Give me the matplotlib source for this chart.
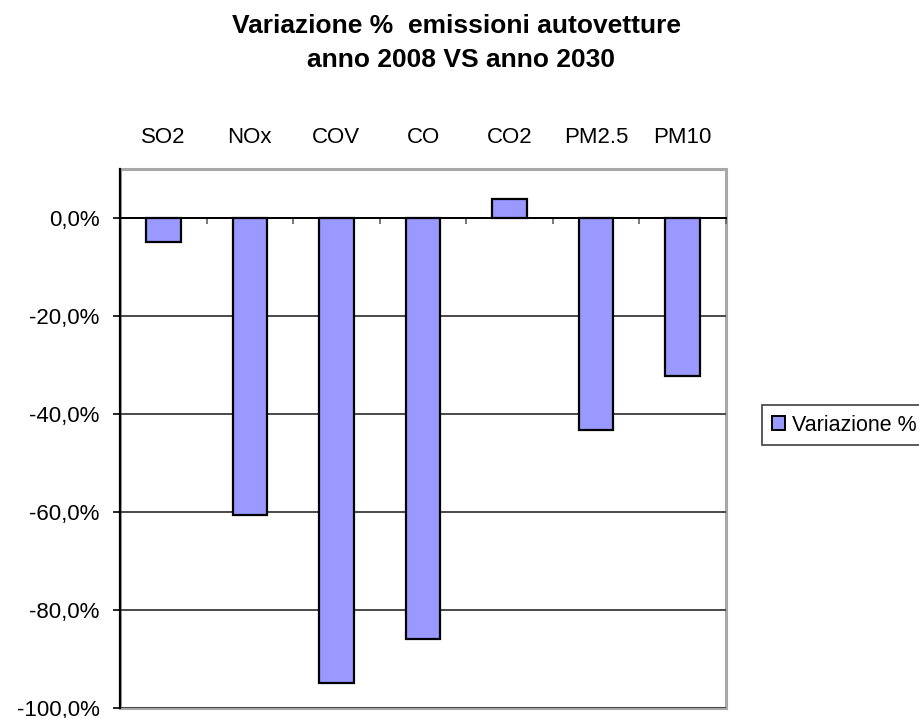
import matplotlib
matplotlib.use("Agg")
import matplotlib.pyplot as plt
from matplotlib.patches import Rectangle, Patch
from matplotlib.ticker import FuncFormatter
import numpy as np

plt.rcParams['font.family'] = ['Liberation Sans', 'DejaVu Sans']

# Dati (variazione % emissioni autovetture 2008 vs 2030)
categorie = ['SO2', 'NOx', 'COV', 'CO', 'CO2', 'PM2.5', 'PM10']
variazione = [-4.9, -60.6, -94.9, -86.0, 3.9, -43.3, -32.3]
serie_nome = 'Variazione %'
yticks = [0, -20, -40, -60, -80, -100]

fig = plt.figure(figsize=(9.19, 7.18), dpi=100)
ax = fig.add_axes([120 / 919, 10 / 718, 606 / 919, 539 / 718])

x = np.arange(len(categorie))
ax.bar(x, variazione, width=0.4, color='#9999FF', edgecolor='black',
       linewidth=1.6, zorder=3)

ax.set_xlim(-0.5, len(categorie) - 0.5)
ax.set_ylim(-100, 10)

# griglia orizzontale
ax.set_yticks(yticks)
ax.yaxis.grid(True, color='#3a3a3a', linewidth=1.3, zorder=1)
ax.set_axisbelow(True)
ax.yaxis.set_major_formatter(FuncFormatter(
    lambda v, p: ('%.1f%%' % (v if v != 0 else 0.0)).replace('.', ',')))
ax.tick_params(axis='y', direction='out', length=5, width=1.2,
               color='black', pad=9.5, labelsize=16)

# cornice grigia dell'area del grafico
for s in ['top', 'right']:
    ax.spines[s].set_visible(False)
ax.add_patch(Rectangle((0, 0), 1, 1, transform=ax.transAxes, fill=False,
                       edgecolor='#a8a8a8', linewidth=2.2, zorder=0,
                       clip_on=False))
ax.spines['left'].set_color('black')
ax.spines['left'].set_linewidth(1.6)
ax.spines['left'].set_zorder(4)

# asse delle categorie sullo zero
ax.spines['bottom'].set_position(('data', 0))
ax.spines['bottom'].set_color('black')
ax.spines['bottom'].set_linewidth(1.4)
ax.set_xticks(np.arange(-0.5, len(categorie), 1.0))
ax.set_xticklabels([])
ax.tick_params(axis='x', direction='out', length=4, width=1.2,
               color='#606060')

# etichette delle categorie in alto
sec = ax.secondary_xaxis('top')
sec.set_xticks(x)
sec.set_xticklabels(categorie)
sec.tick_params(length=0, pad=15, labelsize=16)
for s in sec.spines.values():
    s.set_visible(False)

# titolo
fig.text(0.497, 1 - 33 / 718, 'Variazione %  emissioni autovetture',
         ha='center', va='baseline', fontsize=19, fontweight='bold')
fig.text(0.502, 1 - 67 / 718, 'anno 2008 VS anno 2030',
         ha='center', va='baseline', fontsize=19, fontweight='bold')

# legenda
handle = Patch(facecolor='#9999FF', edgecolor='black', linewidth=1.4)
leg = fig.legend([handle], [serie_nome], loc='upper left',
                 bbox_to_anchor=(762 / 919, 1 - 405 / 718), borderaxespad=0,
                 fontsize=15.5, handlelength=0.6, handleheight=0.6,
                 handletextpad=0.35, borderpad=0.45, fancybox=False,
                 framealpha=1)
leg.get_frame().set_edgecolor('#404040')
leg.get_frame().set_linewidth(1.2)

fig.savefig('out.png', dpi=100)
